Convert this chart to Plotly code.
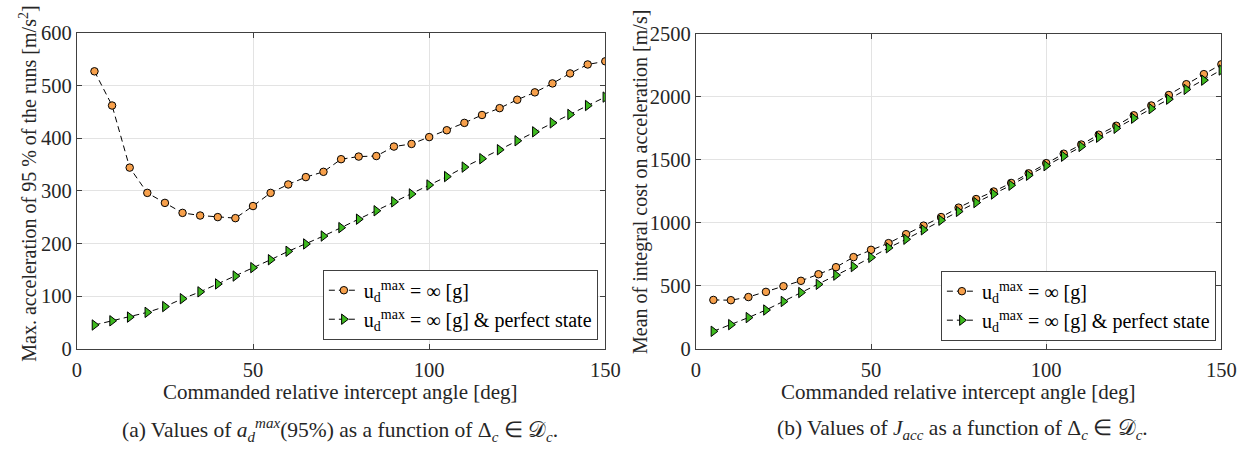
import plotly.graph_objects as go

angles = list(range(5, 155, 5))

# Left panel: max acceleration of 95 % of runs [m/s^2]
acc_noisy = [527, 462, 344, 296, 277, 258, 253, 250, 248, 271, 296, 312, 326, 336, 360,
             365, 366, 384, 389, 402, 415, 429, 444, 457, 473, 487, 504, 523, 540, 546]
acc_perfect = [45, 53, 60, 69, 80, 95, 108, 123, 138, 154, 169, 185, 199, 214, 230,
               246, 262, 279, 294, 311, 327, 345, 361, 378, 395, 412, 429, 445, 462, 478]

# Right panel: mean integral cost on acceleration [m/s]
cost_noisy = [387, 385, 410, 451, 496, 539, 591, 647, 727, 785, 838, 909, 977, 1045, 1120,
              1188, 1248, 1316, 1392, 1473, 1548, 1621, 1699, 1770, 1853, 1931, 2014, 2100, 2180, 2258]
cost_perfect = [138, 191, 247, 307, 375, 446, 511, 584, 652, 725, 801, 869, 944, 1020, 1090,
                1160, 1228, 1298, 1377, 1453, 1528, 1606, 1679, 1750, 1830, 1906, 1981, 2059, 2132, 2213]

name1 = "u<sub>d</sub><sup>max</sup> = ∞ [g]"
name2 = "u<sub>d</sub><sup>max</sup> = ∞ [g] & perfect state"

ORANGE = "#F7A04B"
GREEN = "#3DBA1E"
FONT = "'Liberation Serif', 'Times New Roman', Times, serif"

line = dict(color="black", width=1, dash="6px,4px")
m_circ = dict(symbol="circle", size=7.5, color=ORANGE, line=dict(color="black", width=1))
m_tri = dict(symbol="triangle-right", size=9, color=GREEN, line=dict(color="black", width=1))

fig = go.Figure()
fig.add_trace(go.Scatter(x=angles, y=acc_noisy, mode="lines+markers", name=name1,
                         line=line, marker=m_circ, xaxis="x", yaxis="y", legend="legend"))
fig.add_trace(go.Scatter(x=angles, y=acc_perfect, mode="lines+markers", name=name2,
                         line=line, marker=m_tri, xaxis="x", yaxis="y", legend="legend"))
fig.add_trace(go.Scatter(x=angles, y=cost_noisy, mode="lines+markers", name=name1,
                         line=line, marker=m_circ, xaxis="x2", yaxis="y2", legend="legend2"))
fig.add_trace(go.Scatter(x=angles, y=cost_perfect, mode="lines+markers", name=name2,
                         line=line, marker=m_tri, xaxis="x2", yaxis="y2", legend="legend2"))

W, H = 1260, 451
def px(v): return v / W
def py(v): return 1 - v / H

axis_common = dict(showgrid=True, gridcolor="#e3e3e3", gridwidth=1, showline=True,
                   linecolor="#404040", linewidth=1, mirror="ticks", ticks="inside",
                   ticklen=5, tickcolor="#404040", zeroline=False,
                   tickfont=dict(family=FONT, size=20.5, color="#262626"))

xcommon = dict(range=[0, 150], tickvals=[0, 50, 100, 150], ticklabelstandoff=3, **axis_common)

fig.update_layout(
    width=W, height=H, margin=dict(l=0, r=0, t=0, b=0),
    paper_bgcolor="white", plot_bgcolor="white",
    font=dict(family=FONT, size=20, color="#262626"),
    xaxis=dict(domain=[px(73), px(610)], anchor="y", **xcommon),
    yaxis=dict(domain=[py(355), py(23)], range=[0, 600], dtick=100, anchor="x", **axis_common),
    xaxis2=dict(domain=[px(702), px(1236)], anchor="y2", **xcommon),
    yaxis2=dict(domain=[py(355), py(24)], range=[0, 2500], dtick=500, anchor="x2", **axis_common),
    legend=dict(x=px(323), y=py(272), xanchor="left", yanchor="top", bgcolor="white",
                bordercolor="#404040", borderwidth=1, font=dict(family=FONT, size=20, color="black"),
                tracegroupgap=0, itemwidth=30),
    legend2=dict(x=px(951), y=py(273), xanchor="left", yanchor="top", bgcolor="white",
                 bordercolor="#404040", borderwidth=1, font=dict(family=FONT, size=20, color="black"),
                 tracegroupgap=0, itemwidth=30),
    showlegend=True,
)

ann = []
def add(text, x, y, size=20, angle=0):
    ann.append(dict(text=text, x=px(x), y=py(y), xref="paper", yref="paper", showarrow=False,
                    xanchor="center", yanchor="middle", textangle=angle,
                    font=dict(family=FONT, size=size, color="#262626")))

add("Commanded relative intercept angle [deg]", 341, 401, size=21)
add("Commanded relative intercept angle [deg]", 969, 401, size=21)
add("Max. acceleration of 95 % of the runs [m/s<sup>2</sup>]", 23, 182, size=20, angle=-90)
add("Mean of integral cost on acceleration [m/s]", 645, 180, size=20, angle=-90)
add("(a) Values of <i>a</i><sub><i>d</i></sub><sup><i>max</i></sup>(95%) as a function of Δ<sub><i>c</i></sub> ∈ 𝒟<sub><i>c</i></sub>.",
    340, 440, size=21.5)
add("(b) Values of <i>J</i><sub><i>acc</i></sub> as a function of Δ<sub><i>c</i></sub> ∈ 𝒟<sub><i>c</i></sub>.",
    973, 440, size=21.5)
fig.update_layout(annotations=ann)

fig.write_html("out.html")
